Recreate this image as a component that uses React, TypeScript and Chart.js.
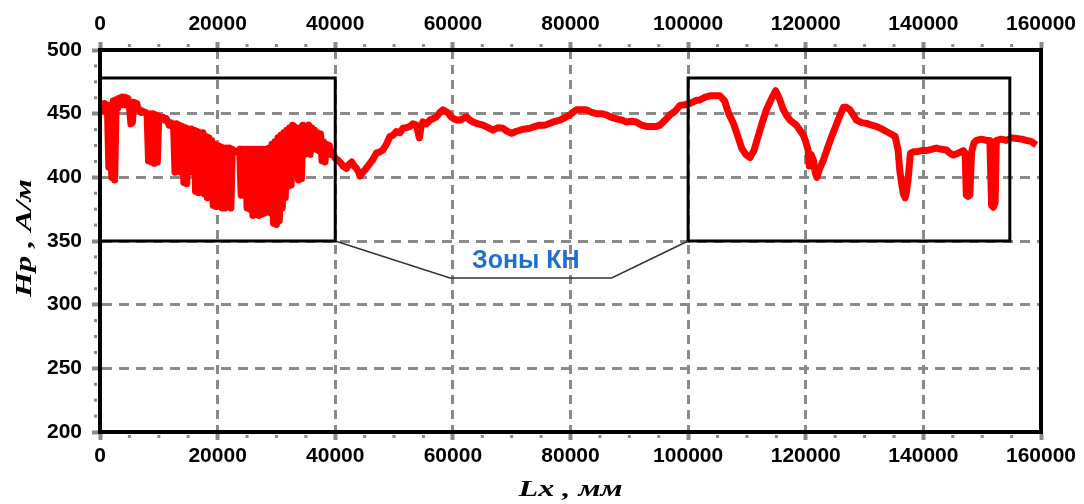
import { useEffect, useRef } from "react";
import { Chart, registerables } from "chart.js";

Chart.register(...registerables);

// ---------- axis / text data ----------
const X_MIN = 0;
const X_MAX = 160000;
const X_STEP = 20000;
const Y_MIN = 200;
const Y_MAX = 500;
const Y_STEP = 50;
const X_MINOR_STEP = 5000;
const Y_MINOR_STEP = 12.5;
const X_TITLE = "Lx , мм";
const Y_TITLE = "Hp , A/м";
const ZONE_LABEL = "Зоны КН";
const ZONE_LABEL_AT = [72400, 334];

// ---------- series: left zone (dense scan, 0..40000 mm) ----------
const leftZoneX = [
  0, 250, 500, 750, 1000, 1250, 1500, 1750, 2000, 2250,
  2500, 2750, 3000, 3250, 3500, 3750, 4000, 4250, 4500, 4750,
  5000, 5250, 5500, 5750, 6000, 6250, 6500, 6750, 7000, 7250,
  7500, 7750, 8000, 8250, 8500, 8750, 9000, 9250, 9500, 9750,
  10000, 10250, 10500, 10750, 11000, 11250, 11500, 11750, 12000, 12250,
  12500, 12750, 13000, 13250, 13500, 13750, 14000, 14250, 14500, 14750,
  15000, 15250, 15500, 15750, 16000, 16250, 16500, 16750, 17000, 17250,
  17500, 17750, 18000, 18250, 18500, 18750, 19000, 19250, 19500, 19750,
  20000, 20250, 20500, 20750, 21000, 21250, 21500, 21750, 22000, 22250,
  22500, 22750, 23000, 23250, 23500, 23750, 24000, 24250, 24500, 24750,
  25000, 25250, 25500, 25750, 26000, 26250, 26500, 26750, 27000, 27250,
  27500, 27750, 28000, 28250, 28500, 28750, 29000, 29250, 29500, 29750,
  30000, 30250, 30500, 30750, 31000, 31250, 31500, 31750, 32000, 32250,
  32500, 32750, 33000, 33250, 33500, 33750, 34000, 34250, 34500, 34750,
  35000, 35250, 35500, 35750, 36000, 36250, 36500, 36750, 37000, 37250,
  37500, 37750, 38000, 38250, 38500, 38750, 39000, 39250, 39500, 39750,
  40000,
];
const leftZoneY = [
  454, 457, 452, 458, 454, 457, 408, 455, 400, 460,
  398, 461, 454, 462, 457, 463, 457, 463, 457, 462,
  456, 442, 443, 459, 456, 458, 453, 453, 451, 452,
  451, 451, 450, 413, 450, 412, 450, 411, 449, 412,
  448, 447, 446, 447, 445, 446, 444, 441, 443, 440,
  442, 404, 442, 406, 441, 404, 440, 396, 439, 395,
  438, 406, 438, 404, 437, 389, 436, 388, 435, 390,
  435, 387, 432, 384, 431, 385, 429, 378, 426, 377,
  425, 382, 424, 376, 423, 376, 423, 377, 423, 376,
  422, 421, 420, 420, 421, 422, 386, 422, 387, 422,
  376, 422, 375, 422, 370, 422, 371, 422, 370, 422,
  371, 422, 372, 422, 373, 423, 372, 426, 364, 428,
  363, 431, 366, 433, 376, 435, 384, 437, 393, 439,
  394, 441, 440, 438, 438, 398, 439, 399, 441, 418,
  439, 419, 441, 418, 439, 423, 437, 422, 435, 421,
  434, 413, 428, 412, 426, 420, 425, 418, 420, 417,
  415,
];

// ---------- series: middle section (40000..101400 mm) ----------
const middleX = [
  40300, 40800, 41300, 41900, 42300, 42800, 43200, 43600, 44000, 44200,
  44500, 45100, 45900, 46400, 47000, 47600, 48100, 48700, 49300, 49800,
  50400, 51000, 51500, 52100, 52700, 53200, 53800, 54100, 54300, 54600,
  54900, 55500, 56100, 56600, 57200, 57800, 58300, 58700, 59200, 59600,
  60000, 60600, 61200, 61700, 62300, 62900, 63400, 64300, 65100, 66000,
  66800, 67700, 68500, 69300, 70000, 70700, 71400, 72300, 73100, 74000,
  74800, 75700, 76500, 77400, 78200, 79100, 79900, 80400, 81000, 81900,
  82700, 83600, 84400, 85300, 86100, 87000, 87800, 88700, 89500, 90400,
  91200, 92100, 92900, 93800, 94600, 95200, 95800, 96300, 96900, 97800,
  98600, 99500, 100300, 101400,
];
const middleY = [
  414, 412, 409, 407, 410, 412, 409, 407, 404, 401,
  403, 406, 411, 414, 419, 420, 421.5, 426, 432, 433,
  436, 435, 438.5, 439, 440, 442, 441, 435, 431, 440,
  443.5, 442, 445, 446, 447.5, 451, 453, 452, 450.5, 448,
  446.5, 445, 445, 446, 447.5, 445, 443.5, 442, 441, 439,
  437, 439, 438.5, 436, 434.5, 436, 437, 438, 438.5, 440,
  441, 441, 442.5, 444, 445, 447, 449, 451, 453, 453,
  453, 451, 450, 450, 449, 447, 446, 445, 443.5, 444,
  443.5, 441, 440, 440, 440, 441, 443.5, 446, 449, 452,
  456.5, 457, 458, 460.5,
];

// ---------- series: right zone (102000..159200 mm) ----------
const rightZoneX = [
  102000, 102900, 103700, 104600, 105400, 106200, 106900, 107700, 108400, 109100,
  109800, 110500, 111200, 111900, 112600, 113300, 114100, 114900, 115500, 116200,
  116700, 117300, 118400, 119000, 119600, 120000, 120400, 120600, 120900, 121300,
  121600, 121900, 122300, 123000, 123700, 124400, 125000, 125500, 126400, 126900,
  127500, 128100, 128600, 129500, 130300, 131200, 132000, 132900, 133700, 134500,
  135200, 135700, 136000, 136300, 136600, 136900, 137100, 137400, 137800, 138300,
  138800, 139700, 140500, 141400, 142200, 143100, 143900, 144500, 145100, 145900,
  146800, 147100, 147300, 147600, 147900, 148200, 148600, 149000, 149900, 150700,
  151300, 151600, 151900, 152200, 152400, 153300, 154100, 155000, 155900, 156700,
  157500, 158400, 159200,
];
const rightZoneY = [
  460.7, 463, 464, 464, 464, 460, 450, 442.4, 433, 423,
  418, 415.5, 421, 432, 443, 453, 461, 468, 462, 453,
  449, 445, 441, 437, 433, 428, 421.5, 409, 418, 413.6,
  404, 400, 406, 413.6, 423, 432, 439, 445, 455, 455,
  453, 449, 445, 443, 442.4, 441, 440, 438, 436, 434,
  432, 421.5, 405, 395.3, 387, 384, 388, 398, 419, 420,
  420, 421, 421, 422, 423, 422, 421.5, 419, 417.5, 419,
  421, 419, 386, 385, 386, 420, 427, 429, 430, 429,
  429, 378, 376.5, 380, 429, 430, 429, 431, 430.5, 430,
  429, 428, 425.4,
];

// ---------- zone frames and callout (data coordinates) ----------
const zoneLeftX = [0, 0, 40000, 40000, 0];
const zoneRightX = [100000, 100000, 154700, 154700, 100000];
const zoneFrameY = [350, 478, 478, 350, 350];
const calloutX = [40000, 59500, 87000, 100000];
const calloutY = [350, 321, 321, 350];

const toPoints = (xs: number[], ys: number[]) => xs.map((x, i) => ({ x, y: ys[i] }));

const GRID_GRAY = "#8a8a8a";
const TICK_FONT = { family: '"Liberation Sans", Arial, sans-serif', size: 21, weight: "bold" as const };
const TITLE_FONT = 'italic bold 23px "Liberation Serif", "Times New Roman", serif';

export default function App() {
  const canvasRef = useRef<HTMLCanvasElement | null>(null);

  useEffect(() => {
    const canvas = canvasRef.current;
    if (!canvas) return;

    const series = [
      ...toPoints(leftZoneX, leftZoneY),
      ...toPoints(middleX, middleY),
      ...toPoints(rightZoneX, rightZoneY),
    ];

    const minorTicks = {
      id: "minorTicks",
      afterDraw(chart: any) {
        const { ctx, chartArea, scales } = chart;
        ctx.save();
        ctx.fillStyle = GRID_GRAY;
        for (let v = X_MIN; v <= X_MAX; v += X_MINOR_STEP) {
          if (v % X_STEP === 0) continue;
          const px = scales.x.getPixelForValue(v);
          ctx.fillRect(px - 1.5, chartArea.top - 6, 3, 3);
          ctx.fillRect(px - 1.5, chartArea.bottom + 3, 3, 3);
        }
        for (let v = Y_MIN; v <= Y_MAX; v += Y_MINOR_STEP) {
          if (v % Y_STEP === 0) continue;
          const py = scales.y.getPixelForValue(v);
          ctx.fillRect(chartArea.left - 6, py - 1.5, 3, 3);
        }
        ctx.restore();
      },
    };

    const annotations = {
      id: "annotations",
      afterDatasetsDraw(chart: any) {
        const { ctx, scales } = chart;
        ctx.save();
        ctx.fillStyle = "#1d6fd1";
        ctx.font = 'bold 25px "Liberation Sans", Arial, sans-serif';
        ctx.textAlign = "center";
        ctx.textBaseline = "middle";
        ctx.fillText(
          ZONE_LABEL,
          scales.x.getPixelForValue(ZONE_LABEL_AT[0]),
          scales.y.getPixelForValue(ZONE_LABEL_AT[1])
        );
        ctx.restore();
      },
      afterDraw(chart: any) {
        const { ctx, chartArea } = chart;
        ctx.save();
        ctx.fillStyle = "#000";
        ctx.font = TITLE_FONT;
        ctx.textAlign = "center";
        ctx.textBaseline = "middle";
        ctx.translate((chartArea.left + chartArea.right) / 2, chart.height - 14);
        ctx.scale(1.4, 1);
        ctx.fillText(X_TITLE, 0, 0);
        ctx.restore();

        ctx.save();
        ctx.fillStyle = "#000";
        ctx.font = TITLE_FONT;
        ctx.textAlign = "center";
        ctx.textBaseline = "middle";
        ctx.translate(chartArea.left - 75, (chartArea.top + chartArea.bottom) / 2 - 3);
        ctx.rotate(-Math.PI / 2);
        ctx.scale(1.4, 1);
        ctx.fillText(Y_TITLE, 0, 0);
        ctx.restore();
      },
    };

    const xTicks = {
      stepSize: X_STEP,
      autoSkip: false,
      maxRotation: 0,
      color: "#000",
      font: TICK_FONT,
      callback: (v: any) => String(v),
    };

    const chart = new Chart(canvas, {
      type: "line",
      data: {
        datasets: [
          {
            label: "zone1",
            data: toPoints(zoneLeftX, zoneFrameY),
            borderColor: "#000",
            borderWidth: 3,
            pointRadius: 0,
            fill: false,
            order: 0,
          },
          {
            label: "zone2",
            data: toPoints(zoneRightX, zoneFrameY),
            borderColor: "#000",
            borderWidth: 3,
            pointRadius: 0,
            fill: false,
            order: 0,
          },
          {
            label: "callout",
            data: toPoints(calloutX, calloutY),
            borderColor: "#333",
            borderWidth: 1.5,
            pointRadius: 0,
            fill: false,
            order: 0,
          },
          {
            label: "Hp",
            data: series,
            borderColor: "#ff0000",
            borderWidth: 7,
            borderJoinStyle: "round",
            pointRadius: 0,
            tension: 0,
            fill: false,
            order: 1,
          },
        ],
      },
      options: {
        animation: false,
        responsive: false,
        events: [],
        layout: { padding: { top: 0, left: 0, bottom: 0, right: 43 } },
        plugins: { legend: { display: false }, tooltip: { enabled: false } },
        scales: {
          x: {
            type: "linear",
            position: "bottom",
            min: X_MIN,
            max: X_MAX,
            ticks: { ...xTicks, padding: 4 },
            grid: { color: GRID_GRAY, lineWidth: 3, tickLength: 8, tickColor: GRID_GRAY, tickWidth: 4 },
            border: { display: true, color: "#000", width: 4, dash: [9, 6], z: 1 },
            afterFit: (s: any) => {
              s.height = 72;
            },
          },
          x2: {
            type: "linear",
            position: "top",
            min: X_MIN,
            max: X_MAX,
            ticks: { ...xTicks, padding: 5 },
            grid: { drawOnChartArea: false, color: GRID_GRAY, tickLength: 8, tickColor: GRID_GRAY, tickWidth: 4 },
            border: { display: true, color: "#000", width: 4, z: 1 },
            afterFit: (s: any) => {
              s.height = 50;
            },
          },
          y: {
            type: "linear",
            position: "left",
            min: Y_MIN,
            max: Y_MAX,
            ticks: {
              stepSize: Y_STEP,
              color: "#000",
              font: TICK_FONT,
              padding: 10,
              callback: (v: any) => String(v),
            },
            grid: { color: GRID_GRAY, lineWidth: 3, tickLength: 8, tickColor: GRID_GRAY, tickWidth: 4 },
            border: { display: true, color: "#000", width: 4, dash: [10, 7], z: 1 },
            afterFit: (s: any) => {
              s.width = 100;
            },
          },
          y2: {
            type: "linear",
            position: "right",
            min: Y_MIN,
            max: Y_MAX,
            ticks: { display: false },
            grid: { drawOnChartArea: false, drawTicks: false },
            border: { display: true, color: "#000", width: 4, z: 1 },
            afterFit: (s: any) => {
              s.width = 0;
            },
          },
        },
      },
      plugins: [minorTicks, annotations],
    } as any);

    return () => chart.destroy();
  }, []);

  return (
    <div style={{ position: "absolute", left: 0, top: 0, width: 1084, height: 504, background: "#fff" }}>
      <canvas ref={canvasRef} width={1084} height={504} style={{ display: "block", width: 1084, height: 504 }} />
    </div>
  );
}
